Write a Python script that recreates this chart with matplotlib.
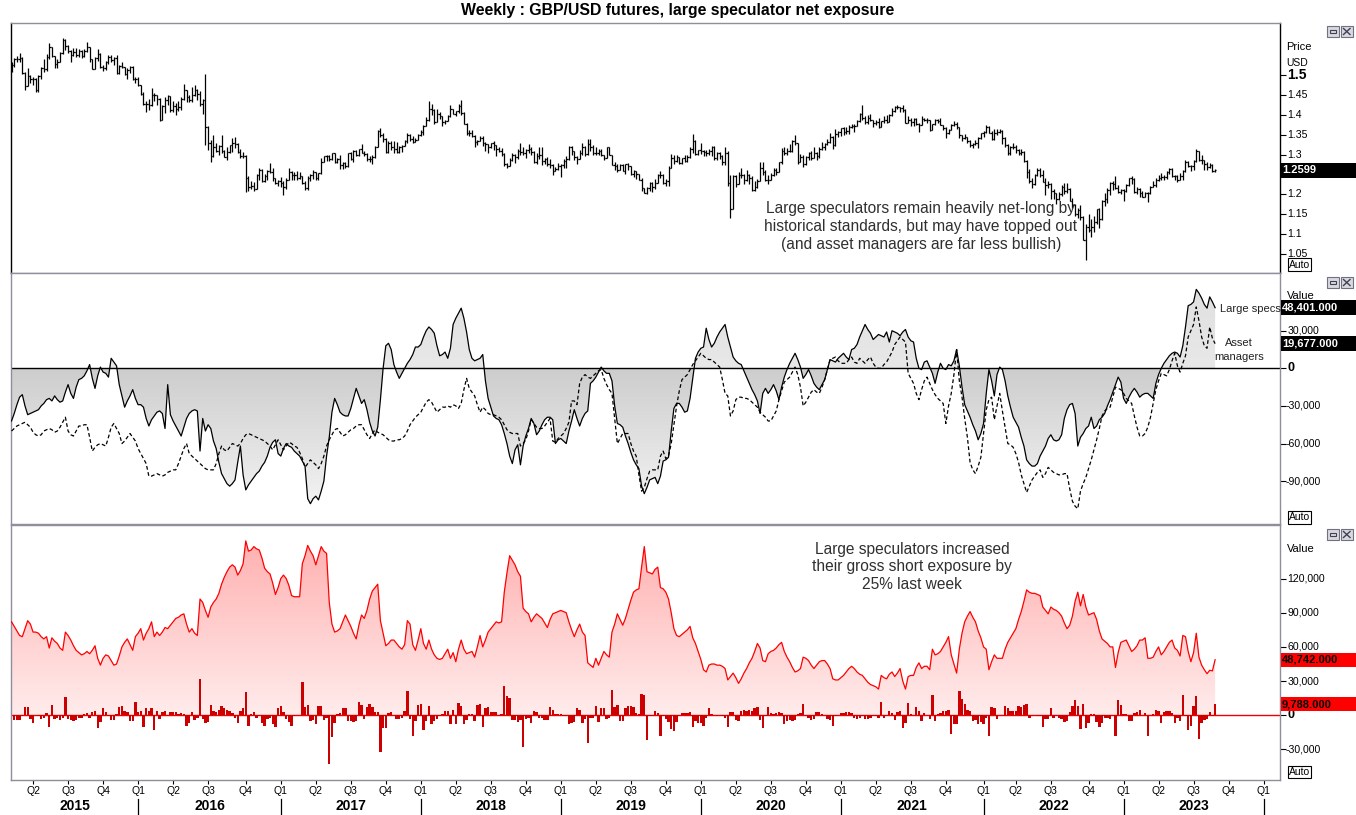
import numpy as np
import pandas as pd
import matplotlib
matplotlib.use("Agg")
import matplotlib.pyplot as plt
from matplotlib.patches import Rectangle
import matplotlib.transforms as mtransforms

plt.rcParams['font.family'] = ['Liberation Sans', 'DejaVu Sans']

# ---------------- data (weekly, first week ending 2015-02-06) ----------------
start_date = '2015-02-06'
first_open = 1.5130

price_close = [
 1.5245,1.5395,1.5395,1.5435,1.5045,1.4730,1.4965,1.4890,1.4900,1.4625,
 1.4965,1.5180,1.5140,1.5460,1.5700,1.5480,1.5280,1.5330,1.5560,1.5880,
 1.5740,1.5600,1.5510,1.5580,1.5510,1.5610,1.5470,1.5610,1.5700,1.5400,
 1.5160,1.5430,1.5530,1.5190,1.5180,1.5330,1.5460,1.5390,1.5430,1.5050,
 1.5240,1.5190,1.5030,1.5120,1.5210,1.4890,1.4900,1.4740,1.4530,1.4260,
 1.4260,1.4250,1.4500,1.4500,1.4400,1.3880,1.4230,1.4380,1.4460,1.4120,
 1.4230,1.4140,1.4200,1.4400,1.4615,1.4440,1.4370,1.4500,1.4620,1.4520,
 1.4260,1.4360,1.3680,1.3280,1.2950,1.3190,1.3100,1.3220,1.3080,1.2940,
 1.3070,1.3230,1.3300,1.3270,1.3070,1.2960,1.2970,1.2420,1.2190,1.2210,
 1.2130,1.2480,1.2600,1.2330,1.2470,1.2590,1.2570,1.2410,1.2280,1.2340,
 1.2280,1.2180,1.2370,1.2570,1.2480,1.2490,1.2410,1.2460,1.2290,1.2160,
 1.2400,1.2480,1.2550,1.2420,1.2530,1.2810,1.2950,1.2960,1.2880,1.3030,
 1.2800,1.2890,1.2740,1.2780,1.2710,1.3030,1.2890,1.3100,1.3000,1.3140,
 1.3050,1.3010,1.2880,1.2890,1.2930,1.3200,1.3590,1.3500,1.3400,1.3070,
 1.3290,1.3190,1.3130,1.3060,1.3200,1.3210,1.3330,1.3480,1.3390,1.3320,
 1.3370,1.3500,1.3570,1.3720,1.3870,1.4150,1.4110,1.3820,1.4020,1.3960,
 1.3810,1.3840,1.3960,1.4140,1.4020,1.4090,1.4230,1.4050,1.3780,1.3540,
 1.3530,1.3470,1.3310,1.3340,1.3420,1.3280,1.3260,1.3200,1.3280,1.3230,
 1.3130,1.3090,1.3010,1.2750,1.2715,1.2850,1.2980,1.2930,1.3090,1.3070,
 1.3030,1.3110,1.3150,1.3060,1.2810,1.2970,1.2980,1.2830,1.2880,1.2770,
 1.2740,1.2590,1.2640,1.2700,1.2730,1.2840,1.2880,1.3190,1.3080,1.2940,
 1.2890,1.3050,1.3190,1.3010,1.3260,1.3200,1.3030,1.3040,1.3080,1.2990,
 1.2920,1.3180,1.2990,1.2740,1.2720,1.2620,1.2740,1.2590,1.2750,1.2700,
 1.2520,1.2580,1.2500,1.2370,1.2150,1.2030,1.2150,1.2280,1.2170,1.2290,
 1.2490,1.2480,1.2290,1.2330,1.2660,1.2920,1.2830,1.2940,1.2780,1.2900,
 1.2840,1.2930,1.3150,1.3330,1.3010,1.3110,1.3080,1.3060,1.3040,1.3080,
 1.3200,1.2900,1.3040,1.2960,1.2820,1.3050,1.2280,1.1630,1.2470,1.2260,
 1.2480,1.2490,1.2370,1.2490,1.2400,1.2110,1.2170,1.2340,1.2670,1.2550,
 1.2350,1.2350,1.2480,1.2620,1.2570,1.2800,1.3090,1.3050,1.3080,1.3090,
 1.3350,1.3280,1.2800,1.2940,1.2750,1.2940,1.3040,1.2910,1.3040,1.2950,
 1.3150,1.3190,1.3270,1.3320,1.3440,1.3230,1.3510,1.3560,1.3670,1.3560,
 1.3590,1.3690,1.3720,1.3730,1.3850,1.4010,1.3930,1.3830,1.3930,1.3860,
 1.3790,1.3830,1.3700,1.3840,1.3880,1.3830,1.3990,1.4100,1.4190,1.4190,
 1.4160,1.4110,1.3800,1.3880,1.3820,1.3890,1.3760,1.3750,1.3900,1.3880,
 1.3870,1.3620,1.3760,1.3860,1.3840,1.3740,1.3670,1.3540,1.3620,1.3750,
 1.3760,1.3680,1.3490,1.3410,1.3440,1.3330,1.3230,1.3270,1.3290,1.3410,
 1.3530,1.3570,1.3680,1.3550,1.3380,1.3530,1.3560,1.3600,1.3410,1.3250,
 1.3040,1.3180,1.3190,1.3110,1.3040,1.3060,1.2830,1.2570,1.2340,1.2250,
 1.2490,1.2620,1.2490,1.2310,1.2240,1.2270,1.2090,1.2030,1.1870,1.2000,
 1.2180,1.2080,1.2140,1.1840,1.1740,1.1510,1.1600,1.1420,1.0860,1.1170,
 1.1090,1.1180,1.1310,1.1620,1.1380,1.1840,1.1890,1.2110,1.2280,1.2260,
 1.2150,1.2050,1.2100,1.2090,1.2230,1.2400,1.2390,1.2050,1.2120,1.2030,
 1.1940,1.2040,1.2030,1.2180,1.2230,1.2370,1.2410,1.2440,1.2440,1.2570,
 1.2630,1.2450,1.2450,1.2350,1.2450,1.2580,1.2820,1.2720,1.2700,1.2830,
 1.3090,1.2860,1.2850,1.2750,1.2690,1.2730,1.2580,1.2599]

price_high = [
 1.5330,1.5420,1.5480,1.5550,1.5450,1.5080,1.5170,1.4990,1.4960,1.4930,
 1.4990,1.5200,1.5410,1.5520,1.5800,1.5700,1.5490,1.5410,1.5580,1.5930,
 1.5900,1.5760,1.5620,1.5670,1.5680,1.5650,1.5640,1.5650,1.5820,1.5700,
 1.5400,1.5460,1.5660,1.5560,1.5250,1.5350,1.5510,1.5510,1.5450,1.5510,
 1.5250,1.5340,1.5190,1.5170,1.5240,1.5240,1.4960,1.4960,1.4750,1.4570,
 1.4350,1.4390,1.4670,1.4560,1.4500,1.4410,1.4240,1.4440,1.4510,1.4460,
 1.4350,1.4290,1.4350,1.4450,1.4770,1.4630,1.4510,1.4690,1.4740,1.4650,
 1.4600,1.4400,1.5020,1.3720,1.3360,1.3480,1.3280,1.3250,1.3480,1.3110,
 1.3190,1.3250,1.3420,1.3440,1.3300,1.3140,1.3060,1.2990,1.2450,1.2340,
 1.2300,1.2510,1.2670,1.2640,1.2520,1.2620,1.2780,1.2650,1.2420,1.2370,
 1.2430,1.2330,1.2410,1.2670,1.2580,1.2570,1.2580,1.2560,1.2470,1.2330,
 1.2460,1.2520,1.2610,1.2560,1.2540,1.2900,1.2960,1.3000,1.2990,1.3050,
 1.3050,1.2900,1.2980,1.2820,1.2810,1.3030,1.3060,1.3110,1.3120,1.3150,
 1.3270,1.3090,1.3030,1.2950,1.2980,1.3220,1.3620,1.3660,1.3540,1.3420,
 1.3340,1.3330,1.3330,1.3320,1.3220,1.3250,1.3370,1.3550,1.3520,1.3470,
 1.3420,1.3510,1.3610,1.3750,1.3950,1.4350,1.4260,1.4140,1.4140,1.4070,
 1.3970,1.3880,1.3990,1.4250,1.4150,1.4100,1.4280,1.4380,1.4070,1.3790,
 1.3620,1.3620,1.3480,1.3360,1.3470,1.3460,1.3320,1.3270,1.3300,1.3350,
 1.3250,1.3200,1.3170,1.3030,1.2790,1.2920,1.3040,1.3010,1.3150,1.3300,
 1.3190,1.3130,1.3260,1.3180,1.3080,1.3040,1.3180,1.3180,1.2920,1.2930,
 1.2880,1.2760,1.2690,1.2790,1.2750,1.2880,1.2960,1.3220,1.3220,1.3100,
 1.2970,1.3110,1.3290,1.3220,1.3380,1.3380,1.3230,1.3190,1.3130,1.3130,
 1.3000,1.3200,1.3180,1.3000,1.2810,1.2750,1.2760,1.2760,1.2760,1.2780,
 1.2720,1.2600,1.2580,1.2520,1.2400,1.2160,1.2170,1.2300,1.2310,1.2380,
 1.2500,1.2580,1.2500,1.2380,1.2700,1.3010,1.2980,1.2980,1.2940,1.2920,
 1.2990,1.2980,1.3180,1.3520,1.3370,1.3120,1.3280,1.3120,1.3120,1.3150,
 1.3210,1.3220,1.3070,1.3060,1.3000,1.3200,1.3100,1.2480,1.2480,1.2490,
 1.2560,1.2650,1.2510,1.2610,1.2520,1.2470,1.2330,1.2390,1.2810,1.2810,
 1.2610,1.2480,1.2530,1.2670,1.2670,1.2810,1.3170,1.3190,1.3160,1.3270,
 1.3370,1.3480,1.3290,1.3010,1.2980,1.2960,1.3060,1.3080,1.3180,1.3070,
 1.3180,1.3310,1.3300,1.3400,1.3540,1.3470,1.3630,1.3580,1.3670,1.3700,
 1.3700,1.3750,1.3760,1.3760,1.3880,1.4050,1.4250,1.3970,1.4000,1.4020,
 1.3880,1.3870,1.3920,1.3850,1.3970,1.3990,1.4010,1.4180,1.4230,1.4250,
 1.4200,1.4240,1.4140,1.3960,1.3910,1.3910,1.3910,1.3800,1.3980,1.3930,
 1.3910,1.3870,1.3770,1.3890,1.3890,1.3910,1.3750,1.3700,1.3640,1.3770,
 1.3840,1.3830,1.3700,1.3500,1.3510,1.3450,1.3370,1.3280,1.3370,1.3440,
 1.3550,1.3600,1.3750,1.3720,1.3580,1.3630,1.3650,1.3640,1.3620,1.3440,
 1.3270,1.3210,1.3300,1.3240,1.3140,1.3150,1.3090,1.2850,1.2640,1.2400,
 1.2520,1.2660,1.2660,1.2600,1.2400,1.2330,1.2290,1.2130,1.2040,1.2060,
 1.2220,1.2290,1.2280,1.2160,1.1900,1.1760,1.1650,1.1740,1.1460,1.1240,
 1.1500,1.1380,1.1440,1.1640,1.1650,1.1850,1.2030,1.2150,1.2310,1.2340,
 1.2450,1.2240,1.2120,1.2120,1.2250,1.2420,1.2450,1.2420,1.2190,1.2150,
 1.2070,1.2060,1.2050,1.2200,1.2340,1.2420,1.2480,1.2540,1.2480,1.2580,
 1.2670,1.2670,1.2490,1.2480,1.2540,1.2600,1.2850,1.2840,1.2740,1.2850,
 1.3140,1.3100,1.2990,1.2870,1.2810,1.2790,1.2750,1.2630]

price_low = [
 1.5080,1.5200,1.5330,1.5330,1.5020,1.4635,1.4720,1.4810,1.4740,1.4580,
 1.4570,1.4900,1.5080,1.5090,1.5400,1.5450,1.5170,1.5170,1.5330,1.5530,
 1.5620,1.5550,1.5330,1.5480,1.5450,1.5450,1.5430,1.5460,1.5590,1.5330,
 1.5160,1.5140,1.5360,1.5170,1.5110,1.5130,1.5270,1.5330,1.5260,1.5030,
 1.5020,1.5170,1.5010,1.4900,1.5050,1.4880,1.4810,1.4720,1.4510,1.4240,
 1.4080,1.4130,1.4230,1.4340,1.4250,1.3840,1.3880,1.4050,1.4240,1.4060,
 1.4070,1.4000,1.4090,1.4130,1.4360,1.4330,1.4330,1.4330,1.4480,1.4360,
 1.4230,1.4010,1.3230,1.3120,1.2800,1.2940,1.3060,1.3000,1.3050,1.2930,
 1.2870,1.3030,1.3060,1.3160,1.3030,1.2920,1.2910,1.2050,1.2090,1.2130,
 1.2090,1.2120,1.2350,1.2310,1.2300,1.2370,1.2530,1.2330,1.2260,1.2200,
 1.2190,1.1990,1.2120,1.2350,1.2350,1.2360,1.2370,1.2380,1.2260,1.2110,
 1.2110,1.2330,1.2380,1.2370,1.2370,1.2510,1.2800,1.2840,1.2840,1.2850,
 1.2780,1.2780,1.2640,1.2630,1.2670,1.2690,1.2850,1.2810,1.2950,1.2950,
 1.3030,1.2950,1.2830,1.2800,1.2770,1.2910,1.3180,1.3450,1.3320,1.3030,
 1.3030,1.3120,1.3030,1.3040,1.3030,1.3070,1.3210,1.3300,1.3340,1.3300,
 1.3320,1.3360,1.3460,1.3490,1.3720,1.3840,1.4000,1.3770,1.3820,1.3890,
 1.3710,1.3760,1.3840,1.3950,1.4010,1.3970,1.4050,1.4000,1.3770,1.3490,
 1.3460,1.3450,1.3200,1.3250,1.3330,1.3210,1.3100,1.3050,1.3170,1.3110,
 1.2960,1.3060,1.2960,1.2720,1.2660,1.2710,1.2840,1.2790,1.2880,1.3000,
 1.2980,1.2920,1.3050,1.3000,1.2790,1.2770,1.2880,1.2730,1.2770,1.2710,
 1.2660,1.2480,1.2580,1.2600,1.2440,1.2650,1.2670,1.2870,1.3000,1.2860,
 1.2770,1.2880,1.3000,1.2960,1.3000,1.3080,1.2980,1.2980,1.3000,1.2970,
 1.2870,1.2900,1.2990,1.2730,1.2610,1.2560,1.2620,1.2580,1.2510,1.2600,
 1.2480,1.2440,1.2380,1.2360,1.2080,1.2020,1.2010,1.2090,1.2060,1.2120,
 1.2280,1.2410,1.2270,1.2200,1.2200,1.2650,1.2770,1.2810,1.2750,1.2770,
 1.2810,1.2820,1.2900,1.3040,1.2990,1.2980,1.3020,1.2960,1.2950,1.2990,
 1.2960,1.2870,1.2870,1.2880,1.2730,1.2730,1.2200,1.1410,1.1620,1.2170,
 1.2250,1.2410,1.2250,1.2340,1.2270,1.2080,1.2080,1.2160,1.2330,1.2480,
 1.2340,1.2260,1.2350,1.2450,1.2480,1.2560,1.2770,1.2980,1.3000,1.3060,
 1.3060,1.3230,1.2770,1.2800,1.2680,1.2740,1.2860,1.2870,1.2910,1.2860,
 1.2920,1.3110,1.3110,1.3240,1.3290,1.3140,1.3220,1.3450,1.3470,1.3500,
 1.3520,1.3520,1.3660,1.3570,1.3730,1.3830,1.3880,1.3780,1.3770,1.3850,
 1.3680,1.3740,1.3670,1.3690,1.3800,1.3790,1.3810,1.3980,1.4070,1.4140,
 1.4080,1.4060,1.3790,1.3790,1.3730,1.3730,1.3750,1.3570,1.3740,1.3840,
 1.3800,1.3600,1.3610,1.3740,1.3790,1.3740,1.3610,1.3410,1.3520,1.3610,
 1.3720,1.3640,1.3420,1.3350,1.3380,1.3290,1.3200,1.3170,1.3250,1.3170,
 1.3400,1.3430,1.3540,1.3540,1.3370,1.3370,1.3480,1.3530,1.3270,1.3190,
 1.3000,1.3000,1.3150,1.3050,1.3000,1.2990,1.2810,1.2410,1.2280,1.2160,
 1.2230,1.2450,1.2440,1.2300,1.1990,1.2160,1.1880,1.1880,1.1760,1.1850,
 1.1960,1.2000,1.2030,1.1820,1.1650,1.1450,1.1410,1.1350,1.0840,1.0350,
 1.1050,1.0930,1.1060,1.1250,1.1140,1.1340,1.1710,1.1770,1.1990,1.2100,
 1.2130,1.2020,1.2000,1.1840,1.2050,1.2200,1.2260,1.2040,1.2000,1.1920,
 1.1920,1.1920,1.1800,1.2010,1.2170,1.2190,1.2340,1.2350,1.2370,1.2380,
 1.2500,1.2440,1.2370,1.2310,1.2350,1.2370,1.2550,1.2680,1.2590,1.2620,
 1.2810,1.2840,1.2760,1.2620,1.2620,1.2650,1.2560,1.2560]

# net positions, thousands of contracts
large_specs_k = [
 -42,-36,-29,-23,-21,-30,-37,-36,-35,-34,  -33,-30,-28,-25,-24,-26,-22,-25,-27,-26,
 -19,-13,-20,-24,-15,-9,-8,-6,-2,3,        -8,-16,-6,1,-3,-4,-7,8,5,2,
 -13,-22,-31,-26,-22,-17,-24,-29,-29,-31,  -40,-46,-41,-38,-35,-34,-36,-48,-13,-37,
 -42,-46,-50,-54,-47,-40,-36,-34,-33,-34,  -66,-40,-50,-45,-48,-58,-64,-75,-84,-88,
 -92,-94,-92,-89,-75,-62,-85,-97,-93,-90,  -87,-84,-82,-78,-75,-70,-63,-59,-57,-68,
 -70,-64,-60,-62,-63,-66,-68,-70,-74,-78,  -104,-108,-104,-102,-105,-98,-90,-70,-55,-35,
 -24,-29,-35,-37,-38,-38,-32,-24,-16,-22,  -28,-25,-33,-43,-50,-54,-47,-25,0,18,
 20,15,3,-3,-8,-4,0,4,7,11,                17,17,19,25,30,33,31,28,18,10,
 11,13,8,16,35,40,44,48,40,29,             15,8,6,7,8,11,-10,-24,-31,-38,
 -40,-41,-45,-52,-60,-70,-76,-65,-61,-77,  -62,-54,-48,-40,-44,-53,-50,-45,-41,-39,
 -39,-41,-60,-57,-56,-58,-60,-50,-42,-33,  -40,-46,-40,-36,-34,-12,-10,-7,-3,1,
 -2,-4,-4,-10,-30,-44,-45,-47,-54,-60,     -67,-73,-77,-80,-94,-100,-95,-89,-88,-87,
 -92,-86,-74,-73,-71,-50,-32,-28,-28,-31,  -35,-34,-24,-8,8,13,16,17,32,23,
 17,20,25,29,32,35,25,17,9,6,              4,3,-2,-7,-12,-17,-21,-26,-36,-20,
 -16,-20,-17,-13,-18,-25,-15,-7,-1,4,      8,12,7,1,-8,-5,-1,-6,-12,-15,
 -17,-13,-9,-1,7,6,5,8,10,12,              9,7,15,16,19,25,30,35,31,28,
 23,25,27,26,25,29,21,30,29,28,            26,29,31,25,22,21,8,0,-1,5,
 6,1,-4,-12,-3,4,0,-1,3,2,                 6,15,2,-15,-29,-34,-39,-45,-50,-57,
 -52,-44,-20,-1,-10,-22,-5,1,-1,-10,       -22,-31,-39,-43,-47,-55,-62,-73,-76,-78,
 -78,-76,-70,-66,-62,-56,-53,-57,-58,-57,  -53,-40,-33,-29,-28,-36,-62,-55,-52,-48,
 -46,-39,-48,-46,-41,-39,-36,-30,-25,-19,  -13,-7,-11,-24,-28,-23,-19,-16,-19,-23,
 -21,-20,-20,-22,-24,-12,-5,0,4,7,         10,12,13,12,9,18,33,50,51,53,
 63,60,56,51,48,57,53,48.401]

asset_mgrs_k = [
 -50,-48,-46,-45,-44,-43,-45,-47,-51,-53,  -54,-53,-50,-49,-48,-49,-51,-50,-47,-43,
 -39,-50,-53,-54,-50,-46,-46,-45,-45,-55,  -66,-63,-61,-60,-61,-62,-55,-47,-44,-48,
 -52,-60,-58,-55,-52,-55,-58,-64,-68,-72,  -76,-86,-86,-85,-84,-85,-86,-85,-83,-82,
 -81,-81,-76,-70,-64,-60,-68,-70,-72,-74,  -76,-78,-80,-81,-81,-81,-76,-68,-62,-65,
 -66,-63,-60,-61,-62,-60,-56,-53,-52,-53,  -54,-55,-56,-57,-58,-60,-62,-65,-61,-57,
 -61,-65,-62,-59,-60,-62,-63,-67,-72,-79,  -76,-73,-75,-77,-80,-76,-70,-62,-57,-53,
 -49,-48,-51,-54,-53,-51,-49,-48,-46,-45,  -45,-49,-53,-56,-52,-49,-51,-52,-53,-55,
 -57,-58,-58,-57,-57,-56,-54,-50,-45,-42,  -39,-37,-35,-31,-27,-25,-27,-31,-35,-33,
 -31,-31,-30,-31,-29,-30,-32,-28,-17,-8,   -16,-19,-22,-29,-35,-31,-33,-36,-37,-37,
 -38,-39,-41,-45,-49,-51,-52,-52,-52,-62,  -60,-57,-50,-41,-44,-47,-48,-48,-46,-43,
 -40,-58,-59,-56,-54,-52,-48,-43,-26,-26,  -29,-12,-7,-5,-7,-8,-6,-4,-2,-1,
 -8,-13,-17,-20,-40,-60,-56,-52,-52,-52,   -60,-66,-70,-85,-98,-95,-88,-82,-81,-81,
 -81,-70,-66,-72,-70,-60,-45,-30,-18,-9,   -7,-5,-1,3,6,9,12,10,8,7,
 7,5,3,1,-9,-20,-22,-38,-34,-25,           -23,-23,-24,-24,-25,-27,-29,-31,-35,-37,
 -39,-42,-42,-38,-34,-25,-18,-11,-9,-7,    -3,1,-5,-15,-30,-27,-23,-19,-17,-19,
 -20,-15,-9,-1,7,8,9,6,4,4,                4,7,9,5,4,8,6,4,7,9,
 4,1,0,0,3,5,9,13,19,22,                   25,23,21,-4,-8,-12,-20,-25,-17,-10,
 -7,-12,-17,-21,-24,-26,-28,-44,-30,-20,   -5,15,-10,-23,-40,-55,-75,-81,-84,-78,
 -71,-52,-33,-25,-23,-41,-30,-20,-34,-47,  -60,-61,-63,-68,-75,-85,-92,-99,-94,-89,
 -86,-83,-81,-87,-84,-79,-81,-83,-84,-85,  -85,-84,-84,-96,-106,-110,-112,-98,-92,-87,
 -80,-73,-65,-57,-48,-38,-34,-32,-31,-23,  -15,-16,-17,-20,-24,-26,-28,-38,-47,-54,
 -54,-52,-47,-39,-28,-17,-10,-4,-5,-6,     -1,6,12,2,-3,4,10,25,30,35,
 49,38,25,18,16,33,24,19.677]

gross_short_k = [
 82,78,74,70,69,76,83,80,73,73,      72,69,67,69,59,68,65,63,59,57,
 73,70,66,61,57,55,53,54,56,54,      57,61,50,44,50,53,52,48,44,45,
 52,60,64,67,62,57,69,72,76,66,      72,76,82,69,73,70,73,77,76,79,
 82,85,86,88,89,80,73,76,72,70,      102,99,92,86,95,99,102,107,115,121,
 126,130,132,130,123,127,133,153,144,145,  148,146,145,138,129,126,124,116,106,112,
 120,123,120,114,105,104,104,104,133,140,  149,144,140,132,140,148,144,142,99,80,
 73,74,76,82,88,83,78,72,67,79,      88,85,92,102,109,112,115,83,72,61,
 63,66,66,63,60,58,62,83,80,62,      57,66,76,63,58,66,58,53,50,49,
 50,54,58,50,55,47,58,66,58,54,      55,56,51,60,70,60,66,73,76,79,
 82,81,82,108,125,140,136,132,126,122,  94,91,89,82,86,89,87,85,81,77,
 84,89,90,91,92,91,90,82,75,69,      75,80,73,70,46,44,42,50,44,50,
 56,53,51,73,80,89,84,79,85,93,      101,108,110,111,130,148,126,125,124,128,
 130,112,111,108,102,90,76,70,69,71, 73,75,78,68,63,56,49,40,38,44,
 45,45,44,44,43,41,31,34,37,33,      28,32,37,41,46,50,56,63,59,48,
 47,54,56,57,59,62,64,56,51,47,      42,38,39,41,51,50,48,44,41,44,
 47,48,48,45,41,32,31,31,33,35,      38,41,43,41,38,36,35,32,29,27,
 26,25,23,35,33,32,36,38,34,37,      41,30,23,34,35,35,42,46,41,43,
 43,40,58,53,54,56,60,64,69,53,      45,37,58,72,82,87,91,86,82,74,
 68,60,58,40,47,53,50,50,50,58,      64,68,72,76,84,91,100,110,108,107,
 107,106,105,95,92,89,95,93,92,90,   87,81,76,79,87,100,108,96,106,95,
 88,89,90,84,74,67,65,63,60,60,      42,55,64,65,66,61,56,58,61,66,
 66,68,50,50,51,56,60,53,56,60,      64,66,59,57,52,70,69,56,47,55,
 72,51,44,40,36.5,39.5,38.954,48.742]

title = "Weekly : GBP/USD futures, large speculator net exposure"
note_top = ["Large speculators remain heavily net-long by",
            "historical standards, but may have topped out",
            "(and asset managers are far less bullish)"]
note_bottom = ["Large speculators increased",
               "their gross short exposure by",
               "25% last week"]
price_ticks = [1.05, 1.1, 1.15, 1.2, 1.25, 1.3, 1.35, 1.4, 1.45, 1.5]
price_tick_labels = ['1.05', '1.1', '1.15', '1.2', '', '1.3', '1.35', '1.4', '1.45', '1.5']
net_ticks = [30000, 0, -30000, -60000, -90000]
gross_ticks = [120000, 90000, 60000, 30000, 0, -30000]

# ---------------- derived ----------------
n = len(price_close)
x = np.arange(n)
close = np.array(price_close)
opn = np.concatenate([[first_open], close[:-1]])
high = np.array(price_high)
low = np.array(price_low)
ls = np.array(large_specs_k) * 1000.0
am = np.array(asset_mgrs_k) * 1000.0
gs = np.array(gross_short_k) * 1000.0
chg = np.diff(gs)

d0 = pd.Timestamp(start_date)
quarters = pd.date_range('2015-04-01', '2024-01-01', freq='QS')
qpos = [int(np.ceil((q - d0).days / 7.0)) for q in quarters]
qlab = ['Q%d' % q.quarter for q in quarters]

# ---------------- figure ----------------
W, H = 1356, 815
fig = plt.figure(figsize=(W / 100, H / 100), dpi=100)
fig.patch.set_facecolor('white')

def FX(px):
    return px / W

def FY(py):
    return 1 - py / H

L_PX, R_PX = 11, 1280
AW = (R_PX - L_PX)

def axx(px):
    return (px - L_PX) / AW

ax1 = fig.add_axes([FX(L_PX), FY(272.7), AW / W, (272.7 - 23) / H])
ax2 = fig.add_axes([FX(L_PX), FY(524), AW / W, (524 - 272.7) / H])
ax3 = fig.add_axes([FX(L_PX), FY(779.7), AW / W, (779.7 - 524.7) / H])

XMIN, XMAX = -0.2, 471.1
SPINE = '#8e8e9e'
for ax in (ax1, ax2, ax3):
    ax.set_facecolor('white')
    for s in ax.spines.values():
        s.set_color(SPINE)
        s.set_linewidth(1.0)
    ax.tick_params(axis='y', left=False, right=True, labelleft=False,
                   labelright=False, length=4, width=0.8, color='black', direction='out')
for s in ('left', 'right'):
    ax1.spines[s].set_color('black')


def gradient_fill(ax, xs, ys, base, stop_vals, stop_cols, ylim, z=1):
    poly = ax.fill_between(xs, ys, base, facecolor='none', edgecolor='none', lw=0)
    y0, y1 = ylim
    vals = np.linspace(y1, y0, 500)
    cols = np.stack([np.interp(vals, stop_vals, [c[k] for c in stop_cols]) for k in range(3)], axis=1) / 255.0
    im = ax.imshow(cols[:, None, :], extent=[xs[0], xs[-1], y0, y1], aspect='auto',
                   origin='upper', zorder=z, interpolation='bilinear')
    im.set_clip_path(poly.get_paths()[0], transform=ax.transData)


# ----- top: price bars -----
ax1.vlines(x, low, high, color='black', lw=0.9, zorder=3)
ax1.hlines(opn, x - 0.5, x, color='black', lw=0.9, zorder=3)
ax1.hlines(close, x, x + 0.5, color='black', lw=0.9, zorder=3)
P_YLIM = (1.0025, 1.631)
ax1.set_ylim(*P_YLIM)
ax1.set_yticks(price_ticks)

# ----- middle: net positions -----
N_YLIM = (-124200, 76300)
gradient_fill(ax2, x, ls, 0,
              [-125000, -100000, 0, 0.001, 80000],
              [(246, 246, 246), (240, 240, 240), (205, 205, 205), (232, 232, 232), (222, 222, 222)],
              N_YLIM, z=1)
ax2.axhline(0, color='black', lw=1.0, zorder=2)
ax2.plot(x, ls, color='black', lw=0.9, zorder=4)
ax2.plot(x, am, color='black', lw=0.9, ls=(0, (3, 2)), zorder=4)
ax2.set_ylim(*N_YLIM)
ax2.set_yticks(net_ticks)

# ----- bottom: gross short + weekly change -----
G_YLIM = (-56500, 167200)
gradient_fill(ax3, x, gs, 0, [0, 155000, 170000],
              [(255, 236, 236), (255, 176, 176), (255, 172, 172)], G_YLIM, z=1)
ax3.plot(x, gs, color='#ff0000', lw=0.9, zorder=4)
ax3.bar(x[1:], chg, width=0.88, color='#cc0000', zorder=3, linewidth=0)
ax3.axhline(0, color='#ee0000', lw=1.0, zorder=2)
ax3.set_ylim(*G_YLIM)
ax3.set_yticks(gross_ticks)

for ax in (ax1, ax2, ax3):
    ax.set_xlim(XMIN, XMAX)

ax1.tick_params(axis='x', bottom=False, labelbottom=False)
ax2.tick_params(axis='x', bottom=False, labelbottom=False)
ax3.set_xticks(qpos)
ax3.set_xticklabels(qlab)
ax3.tick_params(axis='x', length=3, width=0.8, pad=1.5, labelsize=7.5, color='black')

# year labels and separators
bt = mtransforms.blended_transform_factory(ax3.transData, ax3.transAxes)
q1 = [p for p, q in zip(qpos, quarters) if q.quarter == 1]
years = list(range(2015, 2024))
edges = [XMIN] + q1
for k, yr in enumerate(years):
    xc = 0.5 * (edges[k] + edges[k + 1])
    ax3.text(xc, -0.103, str(yr), transform=bt, ha='center', va='center',
             fontsize=10, fontweight='bold', clip_on=False)
for p in q1:
    ax3.plot([p, p], [-0.075, -0.14], transform=bt, color='black', lw=0.9, clip_on=False)

# ----- right axis labels -----
def right_labels(ax, ticks, labels, bold_val, bold_size):
    tr = mtransforms.blended_transform_factory(ax.transAxes, ax.transData)
    for t, s in zip(ticks, labels):
        if not s:
            continue
        if t == bold_val:
            ax.text(axx(1287.5), t, s, transform=tr, ha='left', va='center',
                    fontsize=bold_size, fontweight='bold', clip_on=False, zorder=5)
        else:
            ax.text(axx(1286 if s.startswith('-') else 1287.5), t, s, transform=tr,
                    ha='left', va='center', fontsize=7.6, clip_on=False, zorder=5)

right_labels(ax1, price_ticks, price_tick_labels, 1.5, 10)
right_labels(ax2, net_ticks, ['{:,}'.format(v) for v in net_ticks], 0, 9)
right_labels(ax3, gross_ticks, ['{:,}'.format(v) for v in gross_ticks], 0, 9)


def value_box(ax, v, text, half, fc, tc):
    tr = mtransforms.blended_transform_factory(ax.transAxes, ax.transData)
    ax.add_patch(Rectangle((axx(1281), v - half), axx(1356) - axx(1281), 2 * half,
                           transform=tr, facecolor=fc, edgecolor='none', clip_on=False, zorder=8))
    ax.text(axx(1282), v, text, transform=tr, ha='left', va='center', color=tc,
            fontsize=8, fontweight='bold', clip_on=False, zorder=9)

value_box(ax1, close[-1], '%.4f' % close[-1], 7.5 / 396, 'black', 'white')
value_box(ax2, ls[-1], '{:,.3f}'.format(ls[-1]), 7.5 * 798, 'black', 'white')
value_box(ax2, am[-1], '{:,.3f}'.format(am[-1]), 7.5 * 798, 'black', 'white')
value_box(ax3, gs[-1], '{:,.3f}'.format(gs[-1]), 7.0 * 877, '#ff0000', 'black')
value_box(ax3, chg[-1], '{:,.3f}'.format(chg[-1]), 7.0 * 877, '#ff0000', 'black')

# headers on the right
fig.text(FX(1286), FY(47), 'Price', fontsize=8, va='center', ha='left')
fig.text(FX(1286), FY(63), 'USD', fontsize=7.5, va='center', ha='left')
fig.text(FX(1287), FY(296), 'Value', fontsize=8, va='center', ha='left', zorder=1)
fig.text(FX(1287), FY(549), 'Value', fontsize=8, va='center', ha='left')

for yc in (264.5, 517.5, 772):
    fig.text(FX(1289), FY(yc), 'Auto', fontsize=7.5, va='center', ha='left',
             bbox=dict(boxstyle='square,pad=0.12', fc='white', ec='black', lw=0.8))

# window icons
for ytop in (26, 277, 529):
    for k, xl in enumerate((1327, 1341)):
        r = Rectangle((FX(xl), FY(ytop + 11)), 11.5 / W, 11 / H, transform=fig.transFigure,
                      facecolor='#d8d8e0', edgecolor='#707080', lw=0.8)
        fig.patches.append(r)
        if k == 0:
            fig.patches.append(Rectangle((FX(xl + 3), FY(ytop + 7)), 5.5 / W, 3 / H,
                                         transform=fig.transFigure, facecolor='none',
                                         edgecolor='#404050', lw=0.8))
        else:
            fig.lines.append(plt.Line2D([FX(xl + 2.5), FX(xl + 9)], [FY(ytop + 2.5), FY(ytop + 8.5)],
                                        transform=fig.transFigure, color='#404050', lw=1.0))
            fig.lines.append(plt.Line2D([FX(xl + 2.5), FX(xl + 9)], [FY(ytop + 8.5), FY(ytop + 2.5)],
                                        transform=fig.transFigure, color='#404050', lw=1.0))

# series labels in middle panel
fig.text(FX(1220), FY(309), 'Large specs', fontsize=8, va='center', ha='left', color='#222222')
fig.text(FX(1239), FY(342.5), 'Asset', fontsize=8, va='center', ha='center', color='#222222')
fig.text(FX(1239), FY(357), 'managers', fontsize=8, va='center', ha='center', color='#222222')

# title and notes
fig.text(FX(677.5), FY(15), title, fontsize=11.4, fontweight='bold', ha='center', va='baseline')
for k, line in enumerate(note_top):
    fig.text(FX(921), FY(213.5 + 17.6 * k), line, fontsize=11.2, ha='center', va='baseline',
             color='#303030')
for k, line in enumerate(note_bottom):
    fig.text(FX(912), FY(554 + 17.5 * k), line, fontsize=11.2, ha='center', va='baseline',
             color='#303030')

fig.savefig('out.png', dpi=100, facecolor='white')
